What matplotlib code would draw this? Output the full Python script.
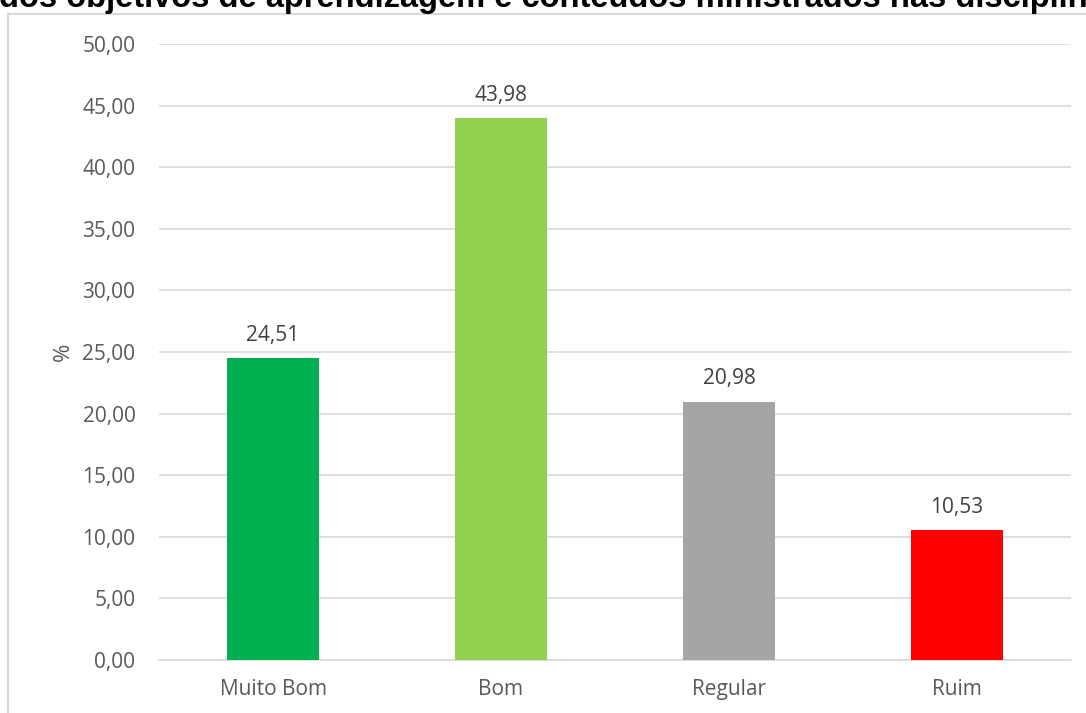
import matplotlib
matplotlib.use("Agg")
from matplotlib import pyplot as plt
from matplotlib.patches import Rectangle

categorias = ["Muito Bom", "Bom", "Regular", "Ruim"]
valores = [24.51, 43.98, 20.98, 10.53]
cores = ["#00b050", "#92d050", "#a5a5a5", "#ff0000"]
titulo = "dos objetivos de aprendizagem e conteúdos ministrados nas disciplinas"

W, H = 1086, 713
fig = plt.figure(figsize=(W / 100, H / 100), dpi=100)
plt.rcParams['font.family'] = ['Open Sans', 'DejaVu Sans']
fs = 15

# moldura do gráfico (cortada à direita e embaixo)
fig.patches.append(Rectangle((8 / W, -0.01), 1.2, (H - 14) / H + 0.01,
                             transform=fig.transFigure, fill=False,
                             edgecolor="#d9d9d9", linewidth=1.5))

# título cortado no topo, como na imagem original
fig.text(-1 / W, 1 - 7.5 / H, titulo, fontsize=23.5, fontweight="bold",
         family=["Liberation Sans", "DejaVu Sans"], ha="left", va="baseline")

ax = fig.add_axes([159 / W, 1 - 660 / H, (1071 - 159) / W, (660 - 44) / H])
x = range(len(categorias))
ax.bar(x, valores, width=0.405, color=cores, zorder=3)
for xi, v in zip(x, valores):
    ax.annotate(f"{v:.2f}".replace(".", ","), (xi, v), xytext=(0, 9),
                textcoords="offset points", ha="center", va="bottom",
                fontsize=fs, color="#404040")

ax.set_xlim(-0.5, len(categorias) - 0.5)
ax.set_ylim(0, 50)
ax.set_yticks(range(0, 51, 5))
ax.set_yticklabels([f"{t:.2f}".replace(".", ",") for t in range(0, 51, 5)])
ax.set_xticks(list(x))
ax.set_xticklabels(categorias)
ax.tick_params(axis="both", length=0, labelsize=fs, labelcolor="#595959")
ax.tick_params(axis="y", pad=17)
ax.tick_params(axis="x", pad=14)
ax.grid(axis="y", color="#d9d9d9", linewidth=1.2, zorder=0)
for s in ["top", "right", "left"]:
    ax.spines[s].set_visible(False)
ax.spines["bottom"].set_color("#d9d9d9")
ax.spines["bottom"].set_linewidth(1.2)
ax.set_ylabel("%", fontsize=fs + 1, color="#595959", labelpad=6)

fig.savefig("out.png", dpi=100)
